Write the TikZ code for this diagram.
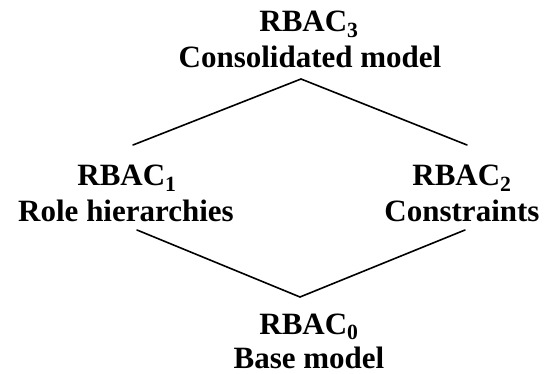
\documentclass[tikz,border=0pt]{standalone}
\usepackage{fontspec}
\setmainfont{Liberation Serif}
\begin{document}
\begin{tikzpicture}[x=1pt,y=-1pt,
  lbl/.style={anchor=base,inner sep=0pt,font=\fontsize{31}{36}\selectfont\bfseries},
  link/.style={line width=1.6pt,line cap=round}]
\useasboundingbox (0,0) rectangle (546,374);
% RBAC3
\node[lbl] (r3) at (309,32) {RBAC\textsubscript{3}};
\node[lbl] (r3d) at (310,68) {Consolidated model};
% RBAC1
\node[lbl] (r1) at (127,186) {RBAC\textsubscript{1}};
\node[lbl] (r1d) at (126,222) {Role hierarchies};
% RBAC2
\node[lbl] (r2) at (462,186) {RBAC\textsubscript{2}};
\node[lbl] (r2d) at (462,222) {Constraints};
% RBAC0
\node[lbl] (r0) at (309,334) {RBAC\textsubscript{0}};
\node[lbl] (r0d) at (309,368) {Base model};
% connector end points
\coordinate (top) at (301,79);
\coordinate (tl) at (133,145);
\coordinate (tr) at (467,145);
\coordinate (bl) at (137,230);
\coordinate (br) at (465,230);
\coordinate (bot) at (300,297);
\draw[link] (tl) -- (top) -- (tr);
\draw[link] (bl) -- (bot) -- (br);
\end{tikzpicture}
\end{document}
